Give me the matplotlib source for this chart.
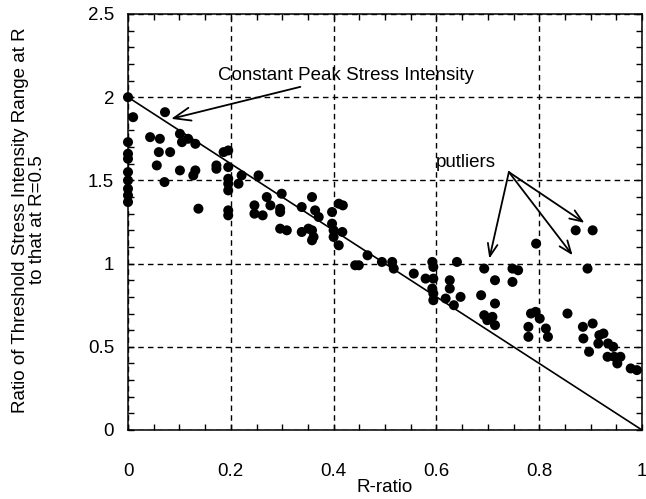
import matplotlib
matplotlib.use("Agg")
import matplotlib.pyplot as plt
from matplotlib.ticker import MultipleLocator

plt.rcParams['font.family'] = ['Liberation Sans', 'DejaVu Sans']

# measured points (R-ratio, threshold ratio)
r_ratio = [
    0.0, 0.01, 0.0, 0.0, 0.0, 0.0, 0.0, 0.0, 0.0, 0.0,
    0.072, 0.043, 0.062, 0.060, 0.082, 0.056, 0.071, 0.101, 0.105, 0.117,
    0.131, 0.101, 0.131, 0.127, 0.137,
    0.186, 0.195, 0.172, 0.172, 0.195, 0.195, 0.195, 0.195, 0.195, 0.195,
    0.215, 0.221,
    0.254, 0.270, 0.299, 0.277, 0.296, 0.296, 0.246, 0.246, 0.262, 0.296, 0.309,
    0.338, 0.358, 0.364, 0.371, 0.338, 0.351, 0.358, 0.361, 0.358,
    0.410, 0.418, 0.397, 0.397, 0.400, 0.417, 0.400, 0.410,
    0.466, 0.442, 0.449, 0.494, 0.514, 0.517, 0.556, 0.579, 0.594, 0.592,
    0.594, 0.592, 0.594, 0.594,
    0.618, 0.626, 0.626, 0.647, 0.640, 0.634, 0.687, 0.693,
    0.871, 0.904, 0.794, 0.748, 0.759, 0.894, 0.714, 0.748, 0.714,
    0.693, 0.699, 0.709, 0.714, 0.784, 0.793, 0.801, 0.855, 0.779, 0.813,
    0.817, 0.779, 0.885, 0.904, 0.886, 0.897, 0.917, 0.925, 0.915, 0.934,
    0.944, 0.933, 0.946, 0.958, 0.952, 0.978, 0.990,
]
dk_ratio = [
    2.00, 1.88, 1.73, 1.66, 1.63, 1.55, 1.50, 1.45, 1.41, 1.37,
    1.91, 1.76, 1.75, 1.67, 1.67, 1.59, 1.49, 1.78, 1.73, 1.75,
    1.72, 1.56, 1.56, 1.53, 1.33,
    1.67, 1.68, 1.59, 1.57, 1.58, 1.51, 1.48, 1.44, 1.32, 1.29,
    1.48, 1.53,
    1.53, 1.40, 1.42, 1.35, 1.33, 1.31, 1.35, 1.30, 1.29, 1.21, 1.20,
    1.34, 1.40, 1.32, 1.28, 1.19, 1.21, 1.20, 1.16, 1.14,
    1.36, 1.35, 1.31, 1.24, 1.20, 1.19, 1.16, 1.11,
    1.05, 0.99, 0.99, 1.01, 1.01, 0.97, 0.94, 0.91, 0.91, 1.01,
    0.98, 0.85, 0.82, 0.78,
    0.79, 0.90, 0.85, 0.80, 1.01, 0.75, 0.81, 0.97,
    1.20, 1.20, 1.12, 0.97, 0.96, 0.97, 0.90, 0.89, 0.76,
    0.69, 0.66, 0.68, 0.63, 0.70, 0.71, 0.67, 0.70, 0.62, 0.61,
    0.56, 0.56, 0.62, 0.64, 0.55, 0.47, 0.57, 0.58, 0.52, 0.52,
    0.50, 0.44, 0.44, 0.44, 0.40, 0.37, 0.36,
]

# constant peak stress intensity line
line_r = [0.0, 1.0]
line_k = [2.0, 0.0]

x_ticks = [0, 0.2, 0.4, 0.6, 0.8, 1.0]
x_labels = ['0', '0.2', '0.4', '0.6', '0.8', '1']
y_ticks = [0, 0.5, 1.0, 1.5, 2.0, 2.5]
y_labels = ['0', '0.5', '1', '1.5', '2', '2.5']

fig = plt.figure(figsize=(6.46, 4.99), dpi=100)
ax = fig.add_axes([128 / 646, 1 - 430 / 499, 514 / 646, 416 / 499])

ax.plot(line_r, line_k, color='black', lw=1.2, zorder=3)
ax.scatter(r_ratio, dk_ratio, s=52, color='black', edgecolors='none', zorder=4, clip_on=False)

ax.set_xlim(0, 1)
ax.set_ylim(0, 2.5)
ax.set_xticks(x_ticks, x_labels)
ax.set_yticks(y_ticks, y_labels)
ax.xaxis.set_minor_locator(MultipleLocator(0.05))
ax.yaxis.set_minor_locator(MultipleLocator(0.1))
ax.tick_params(which='both', direction='in', top=True, right=True,
               length=4.5, width=1, labelsize=13.5)
ax.tick_params(axis='x', pad=24)
ax.tick_params(axis='y', pad=10)
for sp in ax.spines.values():
    sp.set_linewidth(1.1)

ax.grid(True, which='major', color='black', linestyle=(0, (4, 3)), linewidth=1.0)
ax.set_axisbelow(True)

ax.set_xlabel('R-ratio', fontsize=13.5, labelpad=-1)
fig.text(29 / 646, 1 - 220 / 499,
         'Ratio of Threshold Stress Intensity Range at R\nto that at R=0.5',
         rotation=90, ha='center', va='center', fontsize=13.5, linespacing=1.05)

arrow = dict(arrowstyle='->,head_length=0.9,head_width=0.35', color='black', lw=1.3,
             shrinkA=0, shrinkB=0)
ax.annotate('Constant Peak Stress Intensity', xy=(0.084, 1.87), xytext=(0.175, 2.13),
            fontsize=13.5, va='center', ha='left', arrowprops=arrow)

ax.text(0.598, 1.61, 'putliers', fontsize=13.5, va='center', ha='left')
for tip in [(0.703, 1.03), (0.865, 1.05), (0.888, 1.245)]:
    ax.annotate('', xy=tip, xytext=(0.741, 1.55), arrowprops=arrow)

fig.savefig('out.png', dpi=100)
